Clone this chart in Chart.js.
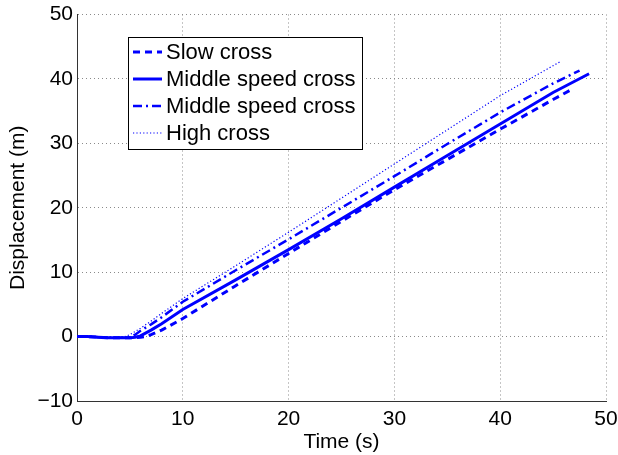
<!DOCTYPE html>
<html>
<head>
<meta charset="utf-8">
<script src="https://cdn.jsdelivr.net/npm/chart.js@4"></script>
<style>
  html, body { margin: 0; padding: 0; background: #fff; }
  #wrap { width: 618px; height: 455px; }
</style>
</head>
<body>
<div id="wrap"><canvas id="myChart" width="618" height="455"></canvas></div>
<script>
// datos (tiempo en s, desplazamiento en m)
var slowX = [0, 1, 2, 3, 4, 5, 6, 6.5, 7, 8, 10, 15, 20, 25, 30, 35, 40, 45, 46.8];
var slowY = [0, 0, -0.1, -0.2, -0.2, -0.2, -0.1, 0, 0.3, 1.0, 2.8, 7.9, 12.9, 17.9, 22.8, 27.5, 32.2, 36.8, 38.4];

var midX = [0, 1, 2, 3, 4, 5, 5.5, 6, 7, 8, 10, 15, 20, 25, 30, 35, 40, 45, 48.4];
var midY = [0, 0, -0.1, -0.2, -0.2, -0.2, -0.1, 0.1, 1.0, 2.0, 4.2, 8.8, 13.5, 18.3, 23.2, 28.1, 33.0, 37.9, 40.8];

var mid2X = [0, 1, 2, 3, 4, 4.5, 5, 5.5, 6, 7, 8, 10, 15, 20, 25, 30, 35, 40, 45, 47.5];
var mid2Y = [0, 0, -0.1, -0.2, -0.2, -0.2, -0.1, 0.3, 0.9, 1.9, 3.0, 5.4, 10.3, 15.1, 20.0, 24.9, 29.9, 34.8, 39.3, 41.3];

var highX = [0, 1, 2, 3, 4, 4.5, 5, 6, 7, 8, 10, 15, 20, 25, 30, 35, 40, 45.7];
var highY = [0, 0, -0.1, -0.1, -0.1, 0, 0.3, 1.3, 2.4, 3.6, 5.9, 11.0, 16.2, 21.5, 26.8, 32.1, 37.4, 42.7];

var nombres = ['Slow cross', 'Middle speed cross', 'Middle speed cross', 'High cross'];
var xTicks = [0, 10, 20, 30, 40, 50];
var yTicks = [-10, 0, 10, 20, 30, 40, 50];

function puntos(xs, ys) {
    return xs.map(function (x, i) { return { x: x, y: ys[i] }; });
}

var fuente = "'Liberation Sans', Arial, Helvetica, sans-serif";
var azul = '#0000ff';

// leyenda con recuadro dentro del area de la grafica
var leyendaPlugin = {
    id: 'leyendaCaja',
    afterDraw: function (chart) {
        var c = chart.ctx;
        var x0 = 128, y0 = 37, w = 234, h = 112;
        c.save();
        c.fillStyle = '#fff';
        c.fillRect(x0, y0, w, h);
        c.strokeStyle = '#000';
        c.lineWidth = 1;
        c.setLineDash([]);
        c.strokeRect(x0 + 0.5, y0 + 0.5, w, h);
        var filas = [52, 79, 106, 133];
        chart.data.datasets.forEach(function (ds, i) {
            var y = filas[i];
            c.beginPath();
            c.strokeStyle = ds.borderColor;
            c.lineWidth = ds.borderWidth;
            c.setLineDash(ds.borderDash || []);
            c.moveTo(133, y);
            c.lineTo(162, y);
            c.stroke();
            c.setLineDash([]);
            c.fillStyle = '#000';
            c.font = '22px ' + fuente;
            c.textBaseline = 'middle';
            c.fillText(ds.label, 166, y + 1);
        });
        c.restore();
    }
};

var ctx = document.getElementById('myChart').getContext('2d');
var myChart = new Chart(ctx, {
    type: 'line',
    data: {
        datasets: [
            { label: nombres[0], data: puntos(slowX, slowY), borderColor: azul, borderWidth: 3, borderDash: [7, 5] },
            { label: nombres[1], data: puntos(midX, midY), borderColor: azul, borderWidth: 3 },
            { label: nombres[2], data: puntos(mid2X, mid2Y), borderColor: azul, borderWidth: 2.5, borderDash: [9, 4, 2, 4] },
            { label: nombres[3], data: puntos(highX, highY), borderColor: azul, borderWidth: 1.2, borderDash: [1.2, 2.2] }
        ]
    },
    options: {
        responsive: false,
        animation: false,
        elements: { point: { radius: 0 }, line: { tension: 0 } },
        layout: { padding: { top: 12, right: 12, left: 0, bottom: 0 } },
        plugins: {
            legend: { display: false },
            tooltip: { enabled: false }
        },
        scales: {
            x: {
                type: 'linear',
                min: 0,
                max: 50,
                afterBuildTicks: function (s) { s.ticks = xTicks.map(function (v) { return { value: v }; }); },
                afterFit: function (s) { s.height = 54; },
                ticks: { color: '#000', font: { size: 21, family: fuente, lineHeight: 1.75 }, padding: 0, maxRotation: 0 },
                grid: { color: '#8a8a8a', drawTicks: false, tickLength: 0 },
                border: { display: true, color: '#333', width: 1, dash: [1, 3] },
                title: { display: true, text: 'Time (s)', color: '#000', font: { size: 21, family: fuente }, padding: { top: -6, bottom: 0 } }
            },
            y: {
                type: 'linear',
                min: -10,
                max: 50,
                afterBuildTicks: function (s) { s.ticks = yTicks.map(function (v) { return { value: v }; }); },
                afterFit: function (s) { s.width = 77; },
                ticks: {
                    color: '#000', font: { size: 21, family: fuente, lineHeight: 1 }, padding: 4,
                    callback: function (v) { return String(v).replace('-', '\u2212'); }
                },
                grid: { color: '#8a8a8a', drawTicks: false, tickLength: 0 },
                border: { display: true, color: '#333', width: 1, dash: [1, 3] },
                title: { display: true, text: 'Displacement (m)', color: '#000', font: { size: 21, family: fuente }, padding: { top: 6, bottom: 0 } }
            }
        }
    },
    plugins: [leyendaPlugin]
});
</script>
</body>
</html>
